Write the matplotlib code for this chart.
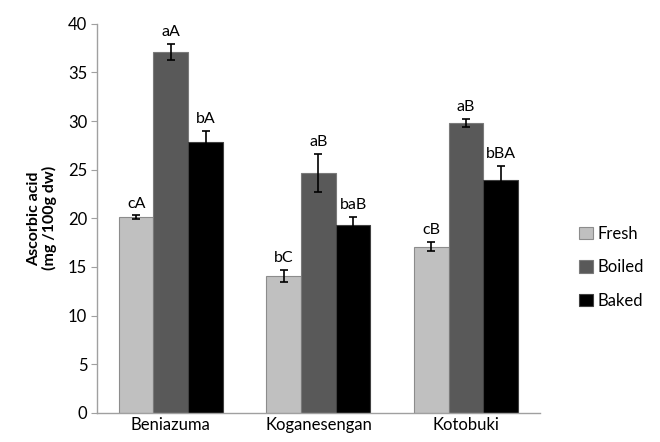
import matplotlib.pyplot as plt
import numpy as np

cultivars = ["Beniazuma", "Koganesengan", "Kotobuki"]
treatments = ["Fresh", "Boiled", "Baked"]

fresh = [20.1, 14.1, 17.1]
boiled = [37.1, 24.7, 29.8]
baked = [27.9, 19.3, 23.9]

fresh_err = [0.2, 0.6, 0.5]
boiled_err = [0.85, 1.95, 0.4]
baked_err = [1.1, 0.85, 1.5]

fresh_lbl = ["cA", "bC", "cB"]
boiled_lbl = ["aA", "aB", "aB"]
baked_lbl = ["bA", "baB", "bBA"]

colors = ["#c0c0c0", "#595959", "#000000"]
edges = ["#8c8c8c", "#7a7a7a", "#404040"]

plt.rcParams["font.family"] = ["Lato", "DejaVu Sans"]

fig = plt.figure(figsize=(6.6, 4.42), dpi=100)
ax = fig.add_axes([0.147, 0.066, 0.671, 0.880])

x = np.arange(len(cultivars))
w = 0.235
series = [(fresh, fresh_err, fresh_lbl), (boiled, boiled_err, boiled_lbl),
          (baked, baked_err, baked_lbl)]

for i, (vals, errs, lbls) in enumerate(series):
    pos = x + (i - 1) * w
    ax.bar(pos, vals, w, color=colors[i], edgecolor=edges[i], linewidth=0.8,
           label=treatments[i], zorder=2)
    ax.errorbar(pos, vals, yerr=errs, fmt="none", ecolor="black",
                elinewidth=1.2, capsize=3, capthick=1.2, zorder=3)
    for p, v, e, t in zip(pos, vals, errs, lbls):
        ax.text(p, v + e + 0.5, t, ha="center", va="bottom", fontsize=11.5)

ax.set_xlim(-0.5, 2.5)
ax.set_ylim(0, 40)
ax.set_yticks(range(0, 41, 5))
ax.set_xticks(x)
ax.set_xticklabels(cultivars)
ax.tick_params(axis="x", length=0, labelsize=12, pad=3)
ax.tick_params(axis="y", length=4, color="#a0a0a0", labelsize=12, pad=3)

for side in ["top", "right"]:
    ax.spines[side].set_visible(False)
for side in ["left", "bottom"]:
    ax.spines[side].set_color("#a0a0a0")
    ax.spines[side].set_linewidth(1.0)

ax.set_ylabel("Ascorbic acid\n(mg /100g dw)", fontsize=11.5, fontweight="bold",
              linespacing=1.1, labelpad=8)

fig.legend(loc="center left", bbox_to_anchor=(0.855, 0.395), frameon=False,
           fontsize=12, handlelength=0.8, handleheight=0.8, handletextpad=0.3,
           labelspacing=1.05)

fig.savefig("out.png", dpi=100, facecolor="white")
